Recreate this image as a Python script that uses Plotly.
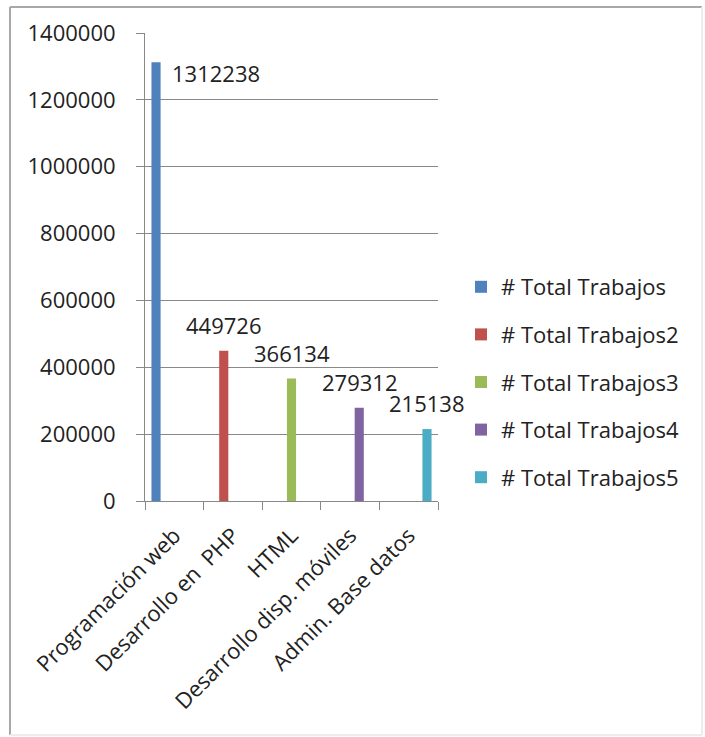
import plotly.graph_objects as go

# ---- data ----
categories = ["Programación web", "Desarrollo en  PHP", "HTML",
              "Desarrollo disp. móviles", "Admin. Base datos"]
series_names = ["# Total Trabajos", "# Total Trabajos2", "# Total Trabajos3",
                "# Total Trabajos4", "# Total Trabajos5"]
values = [1312238, 449726, 366134, 279312, 215138]
colors = ["#4F81BD", "#C0504D", "#9BBB59", "#8064A2", "#4BACC6"]
y_ticks = [0, 200000, 400000, 600000, 800000, 1000000, 1200000, 1400000]

# ---- layout geometry (pixels) ----
W, H = 705, 737
ML, MR, MT, MB = 145, 267, 33, 236
PW, PH = W - ML - MR, H - MT - MB
BARGAP = 0.22
FONT = "Open Sans"
FS = 22

n = len(series_names)
slot = PW / len(categories) * (1 - BARGAP) / n


def px_x(px):
    return (px - ML) / PW


def px_y(py):
    return (H - MB - py) / PH


fig = go.Figure()
for i, (name, cat, val, col) in enumerate(zip(series_names, categories, values, colors)):
    fig.add_trace(go.Bar(
        x=[cat], y=[val], name=name, marker=dict(color=col, line_width=0),
        offsetgroup=str(i), legendgroup=name, hoverinfo="x+y",
    ))

# value labels above each bar (the first one sits beside its bar)
for i, (cat, val) in enumerate(zip(categories, values)):
    center_shift = (i - (n - 1) / 2) * slot
    if i == 0:
        fig.add_annotation(x=cat, y=val, xref="x", yref="y", text=str(val),
                           showarrow=False, xanchor="left", yanchor="middle",
                           xshift=center_shift + 14, yshift=-11,
                           font=dict(family=FONT, size=FS, color="#222"))
    else:
        fig.add_annotation(x=cat, y=val, xref="x", yref="y", text=str(val),
                           showarrow=False, xanchor="center", yanchor="middle",
                           xshift=center_shift, yshift=26,
                           font=dict(family=FONT, size=FS, color="#222"))

# outer chart frame
fig.add_shape(type="line", xref="paper", yref="paper",
              x0=px_x(10), x1=px_x(10), y0=px_y(7), y1=px_y(735),
              line=dict(color="#a8a8a8", width=2))
fig.add_shape(type="line", xref="paper", yref="paper",
              x0=px_x(10), x1=px_x(702), y0=px_y(7), y1=px_y(7),
              line=dict(color="#a8a8a8", width=2))
fig.add_shape(type="line", xref="paper", yref="paper",
              x0=px_x(702), x1=px_x(702), y0=px_y(7), y1=px_y(735),
              line=dict(color="#ececec", width=2))
fig.add_shape(type="line", xref="paper", yref="paper",
              x0=px_x(10), x1=px_x(702), y0=px_y(735), y1=px_y(735),
              line=dict(color="#ececec", width=2))

fig.update_layout(
    width=W, height=H,
    margin=dict(l=ML, r=MR, t=MT, b=MB, pad=0),
    paper_bgcolor="white", plot_bgcolor="white",
    barmode="group", bargap=BARGAP, bargroupgap=0,
    font=dict(family=FONT, size=FS, color="#222"),
    showlegend=True,
    legend=dict(x=px_x(461), y=px_y(266), xanchor="left", yanchor="top",
                font=dict(family=FONT, size=FS, color="#222"),
                tracegroupgap=16, bgcolor="rgba(0,0,0,0)"),
)
fig.update_xaxes(
    type="category", categoryorder="array", categoryarray=categories,
    range=[-0.5, len(categories) - 0.5],
    showline=True, linecolor="#888888", linewidth=1,
    ticks="outside", tickson="boundaries", ticklen=8, tickcolor="#888888",
    tickangle=-45, showgrid=False, ticklabelstandoff=12,
    tickfont=dict(family=FONT, size=FS, color="#222"),
)
fig.update_yaxes(
    range=[0, 1400000], tickvals=y_ticks, ticktext=[str(v) for v in y_ticks],
    showline=True, linecolor="#888888", linewidth=1,
    ticks="outside", ticklen=8, tickcolor="#888888", ticklabelstandoff=16,
    showgrid=True, gridcolor="#888888", gridwidth=1, zeroline=False,
    tickfont=dict(family=FONT, size=FS, color="#222"),
)

fig.write_html("out.html")
